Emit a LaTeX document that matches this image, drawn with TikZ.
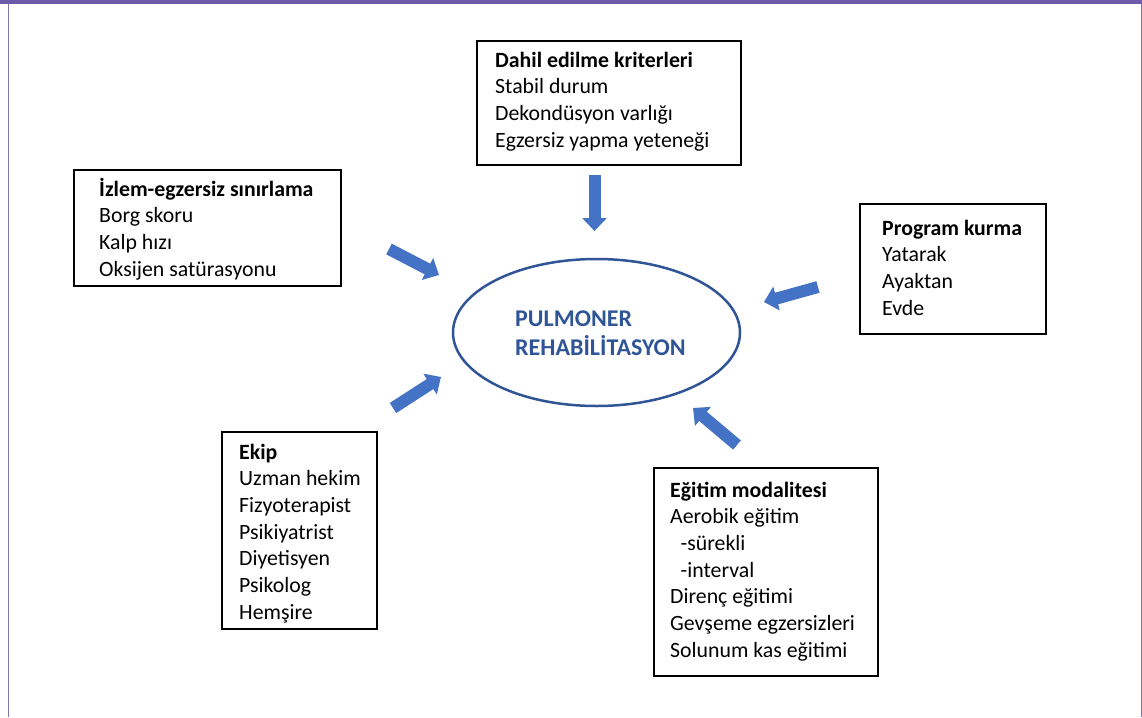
\documentclass[tikz,border=0pt]{standalone}
\usepackage{fontspec}
\setmainfont{Carlito}
\usetikzlibrary{arrows.meta,shapes.geometric}
\definecolor{arrowblue}{RGB}{68,114,196}
\definecolor{titleblue}{RGB}{47,85,151}
\definecolor{framepurple}{RGB}{107,91,168}
\begin{document}
\begin{tikzpicture}[x=1pt,y=-1pt,
  box/.style={draw=black, line width=1.8pt, anchor=north west, inner sep=0pt, outer sep=0pt},
  boxtext/.style={anchor=north west, inner sep=0pt, align=left, font=\fontsize{21.8}{26.7}\selectfont},
  bigarrow/.style={draw=arrowblue, fill=arrowblue, line width=12pt, -{Triangle[length=13pt 0, width=24pt 0]}}
]
\useasboundingbox (0,0) rectangle (1142,717);
% frame
\fill[framepurple] (0,0) rectangle (1142,4.5);
\draw[framepurple!85, line width=1pt] (8.3,4.5) -- (8.3,717);
\draw[framepurple!85, line width=1pt] (1141,4.5) -- (1141,717);

% boxes
\node[box, minimum width=264pt, minimum height=124pt] (dahil) at (477,41) {};
\node[boxtext] (dahiltxt) at (495,48.3) {\strut\textbf{Dahil edilme kriterleri}\\Stabil durum\\Dekondüsyon varlığı\\Egzersiz yapma yeteneği\strut};

\node[box, minimum width=267pt, minimum height=116pt] (izlem) at (74,170) {};
\node[boxtext] (izlemtxt) at (99,177.3) {\strut\textbf{İzlem-egzersiz sınırlama}\\Borg skoru\\Kalp hızı\\Oksijen satürasyonu\strut};

\node[box, minimum width=186pt, minimum height=130pt] (program) at (860,204) {};
\node[boxtext] (programtxt) at (882,216.3) {\strut\textbf{Program kurma}\\Yatarak\\Ayaktan\\Evde\strut};

\node[box, minimum width=155pt, minimum height=197pt] (ekip) at (222,432) {};
\node[boxtext] (ekiptxt) at (239,440.3) {\strut\textbf{Ekip}\\Uzman hekim\\Fizyoterapist\\Psikiyatrist\\Diyetisyen\\Psikolog\\Hemşire\strut};

\node[box, minimum width=224pt, minimum height=208pt] (egitim) at (654,468) {};
\node[boxtext] (egitimtxt) at (670,478.3) {\strut\textbf{Eğitim modalitesi}\\Aerobik eğitim\\\hspace*{10.5pt}-sürekli\\\hspace*{10.5pt}-interval\\Direnç eğitimi\\Gevşeme egzersizleri\\Solunum kas eğitimi\strut};

% center ellipse
\node[draw=titleblue, line width=2.5pt, ellipse, minimum width=287pt, minimum height=147pt, inner sep=0pt] (pr) at (596.5,332.5) {};
\node[anchor=north west, inner sep=0pt, align=left, text=titleblue, font=\fontsize{24}{29}\selectfont\bfseries] (prtitle) at (515,305.7) {\strut PULMONER\\REHABİLİTASYON};

% arrows
\coordinate (a1s) at (594.5,175);
\coordinate (a1e) at (594.5,231);
\coordinate (a2s) at (389,249);
\coordinate (a2e) at (439,275);
\coordinate (a3s) at (818,287);
\coordinate (a3e) at (764,302);
\coordinate (a4s) at (393,408);
\coordinate (a4e) at (441,377);
\coordinate (a5s) at (737,445);
\coordinate (a5e) at (693,408);
\draw[bigarrow] (a1s) -- (a1e);
\draw[bigarrow] (a2s) -- (a2e);
\draw[bigarrow] (a3s) -- (a3e);
\draw[bigarrow] (a4s) -- (a4e);
\draw[bigarrow] (a5s) -- (a5e);
\end{tikzpicture}
\end{document}
